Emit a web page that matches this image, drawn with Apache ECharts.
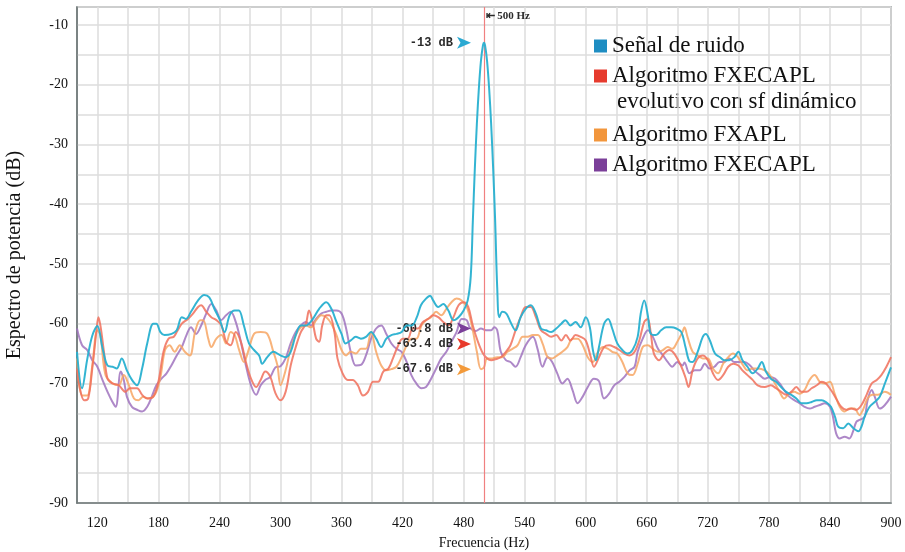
<!DOCTYPE html>
<html>
<head>
<meta charset="utf-8">
<script src="https://cdn.jsdelivr.net/npm/echarts@6/dist/echarts.min.js"></script>
<style>
html, body { margin: 0; padding: 0; background: #fff; }
#chart { width: 905px; height: 552px; }
</style>
</head>
<body>
<div id="chart"></div>
<script>
// [frecuencia Hz, dB]
var senalRuido = [
  [100,-64.7],[105,-70.8],[110,-66],[115,-62],[120,-60.4],[125,-64],[130,-67],[135,-67.2],[139,-67.5],[144,-65.8],
  [149,-67.8],[154,-69.4],[159,-70.3],[164,-67.5],[169,-63.3],[175,-60],[178,-60],[182,-61.4],[186,-61.9],[193,-61.7],
  [198,-61.1],[203,-58.9],[207,-59.2],[212,-58],[219,-56.1],[225,-55.2],[230,-55.6],[235,-57.5],[240,-59.2],[245,-61.4],
  [250,-58.6],[255,-57.8],[259,-57.8],[264,-60.3],[269,-63.3],[274,-64.4],[279,-65.3],[282,-66.7],[287,-65.6],[293,-64.7],
  [300,-65.3],[305,-65.6],[310,-64.7],[315,-61.9],[320,-60.3],[325,-60.3],[331,-59.4],[338,-57.5],[345,-56.4],[350,-57.5],
  [355,-59.7],[360,-61.7],[364,-63.3],[369,-62.8],[374,-62.2],[379,-62.5],[384,-62.2],[389,-61.4],[394,-62.5],[399,-63.9],
  [404,-62.5],[409,-61.9],[414,-61.7],[419,-61.4],[424,-60.3],[429,-60.3],[434,-58.9],[438,-56.9],[443,-55.8],[447,-55.3],
  [450,-56.1],[455,-57.2],[460,-56.7],[465,-57.8],[470,-59.4],[475,-58.9],[480,-57.8],[484,-56.1],[487,-52],[489,-43],
  [491,-34],[493,-26.5],[495,-20.5],[497,-16],[499,-13.4],[500,-13],[501,-13.4],[503,-16],[505,-20.5],[507,-26.5],
  [509,-34],[511,-43],[513,-54],[515,-58.9],[518,-58],[522,-58.3],[526,-59.7],[531,-61.1],[536,-58.9],[541,-57.5],
  [546,-56.9],[551,-58.3],[556,-60.8],[561,-61.1],[566,-61.4],[571,-60.8],[576,-60],[580,-59.4],[585,-60.3],[590,-59.7],
  [595,-60.6],[600,-58.9],[604,-60.6],[607,-64.4],[610,-66.1],[613,-63.9],[618,-60],[622,-59.2],[626,-60.8],[631,-63.3],
  [636,-64.4],[641,-65],[646,-64.4],[651,-62.2],[654,-58.3],[657.5,-56.1],[661,-58.6],[664,-61.7],[669,-61.9],[674,-61.1],
  [679,-60.6],[684,-60.6],[689,-60.8],[694,-61.4],[698,-63.9],[702,-66.3],[705,-66.4],[710,-64.7],[715,-62.2],[718,-61.7],
  [722,-62.8],[727,-65],[732,-65.6],[736,-66.1],[741,-66.1],[746,-65.6],[750,-64.7],[754,-66.1],[759,-67.2],[764,-68.3],
  [769,-67.5],[773,-66.4],[777,-68],[782,-69.2],[787,-69.7],[792,-70.6],[797,-71.4],[802,-71.9],[807,-72.5],[812,-73.3],
  [817,-73.3],[822,-73.1],[827,-72.8],[832,-72.8],[836,-73.1],[841,-73.9],[845,-75.6],[848,-77.2],[853,-77.5],[858,-76.7],
  [863,-77.5],[868,-78],[871,-77.2],[874,-75.6],[879,-73.9],[884,-73.1],[889,-72.2],[894,-70],[900,-67.3]
];
var fxecaplEvolutivo = [
  [100,-67.5],[107,-72.8],[111,-72.5],[115,-67.5],[119,-61.4],[121,-58.9],[123,-60.3],[126.5,-64.7],[130,-69.2],[135,-70],
  [141,-70.3],[147.6,-71.4],[152,-70.8],[159,-70.8],[164,-71.9],[169,-72.5],[175,-72.2],[180,-69.7],[185,-64.7],[190,-62.5],
  [195,-62.2],[198,-61.4],[203,-60],[209,-59.2],[214,-58.3],[219,-57.2],[222,-56.9],[227,-58],[232,-58.9],[237,-59.4],
  [242,-60.3],[246.5,-63],[251,-63.6],[256,-61.4],[261,-63],[266,-66.4],[271,-69.2],[276,-70.6],[280.5,-69.4],[285,-68],
  [290,-68.9],[295,-71.6],[300,-72.8],[305,-71.4],[310,-67],[315,-63.9],[320,-61.4],[325,-60],[328,-57.8],[331.6,-59.7],
  [335,-62.5],[338,-63],[341,-60.3],[345,-58.6],[348,-58.6],[353,-61.4],[356,-65.8],[361,-68.3],[366,-69.4],[371,-69.4],
  [376,-70.3],[381,-72],[386,-71.4],[391,-69.7],[396,-69.7],[401,-68],[406,-67.5],[410.5,-65.8],[415,-63.9],[420,-62.5],
  [425,-62.5],[430,-60.8],[435,-60.8],[440,-59.7],[445,-59.2],[450,-58.6],[455,-58.9],[460,-59.7],[465,-60.3],[470,-58.9],
  [475,-56.9],[480,-56.4],[484.5,-57.2],[489,-60.3],[494,-63],[499,-65],[503,-65.8],[507,-66.1],[512,-65.9],[516.5,-65.6],
  [521.5,-64.7],[526,-63.6],[531,-61.1],[536,-58.9],[541,-57.2],[546,-57.2],[551,-58.9],[556,-61.1],[561,-61.7],[566,-62.2],
  [571,-61.9],[576,-62.8],[580.5,-61.9],[585,-62.8],[590,-61.9],[595,-62.2],[600,-62.8],[605,-65.6],[608,-67.2],[613,-65.6],
  [618,-63.9],[623,-63.6],[628,-63.9],[633,-64.4],[638,-65],[643,-65.3],[648,-64.7],[652.6,-62.8],[657.5,-59.7],[661,-59.2],
  [664,-61.7],[667,-65],[672,-66.1],[677,-65],[682,-64.4],[687,-65],[694,-67.2],[698,-69],[701,-70.6],[705,-67.8],
  [710,-65.8],[715,-65.3],[720,-66.1],[725,-68.3],[730,-69.4],[735,-68.6],[740,-67.2],[745,-66.7],[750,-67],[754,-67.8],
  [759,-68.6],[764,-69.4],[769,-70.3],[776,-70.6],[782,-70.3],[787,-70.8],[792,-71.4],[797,-71.9],[802,-71.4],[807,-70.6],
  [812,-71.4],[817,-71.4],[822,-70.8],[827,-70.3],[832,-69.7],[836,-70],[841,-71.1],[846,-72.5],[851,-73.9],[856,-74.4],
  [861,-74.2],[866,-74.4],[871,-73.6],[876,-71.9],[881,-70],[886,-69.4],[890.5,-68.6],[895.5,-67.2],[900,-65.6]
];
var fxapl = [
  [100,-65.8],[105,-72],[110,-72],[115,-67],[120,-61.1],[123,-61.9],[128,-68.6],[135,-70],[141,-70.3],[146,-68.6],
  [151,-70.3],[156,-72.5],[160.5,-72.8],[165,-72.2],[170,-72.5],[177,-71.7],[182,-68.9],[186.5,-64.4],[191,-63.6],[196,-64.7],
  [201,-63.6],[206,-64.7],[211,-65.3],[216,-61.4],[221,-59.4],[224,-59.4],[229,-62.5],[232,-63.9],[237,-62.5],[242,-61.9],
  [246.5,-63.3],[251,-61.4],[255,-61.9],[259,-64.2],[264,-66.4],[269,-64.2],[274,-61.7],[280.5,-61.4],[287,-61.7],[293,-64.7],
  [297,-67],[300,-70.3],[305,-67.8],[310,-64.2],[315,-61.9],[320,-60.6],[325,-60.3],[330,-60.6],[335,-59.4],[340,-58.6],
  [345,-58.9],[350,-60],[355,-61.9],[360,-64.4],[364.5,-65.3],[369,-64.7],[374,-65],[379,-64.2],[384,-64.2],[389,-61.4],
  [394,-64.7],[399,-67],[404,-67.8],[409,-67.6],[414,-67.2],[419,-65.6],[424,-63.6],[428.6,-62.5],[433.5,-62.5],[438.5,-60.3],
  [443,-59.4],[448,-58.9],[453,-58],[458,-58.6],[463,-57.5],[468,-56.4],[473,-55.8],[478,-56.1],[483,-57.2],[488,-60.3],
  [493,-64.7],[497,-67.6],[500,-67.3],[503,-65.8],[508,-65.8],[513,-65.6],[518,-65.6],[523,-64.7],[528,-64.2],[533,-63.6],
  [538,-62.2],[543,-62.2],[548,-61.9],[553,-61.9],[557.5,-63.3],[562.5,-65.6],[567,-65.8],[572,-65.3],[577,-64.7],[582,-63.9],
  [587,-62.5],[592,-62.5],[597,-63.6],[602,-65.6],[607,-66.4],[612,-64.7],[617,-63.9],[622,-64.2],[626,-64.7],[631,-65],
  [636,-66.4],[641,-68.3],[646,-68.6],[651,-66.7],[656,-63.9],[661,-63.6],[666,-64.2],[671,-64.7],[676,-64.4],[680.5,-63.9],
  [685,-64.2],[690,-63],[695,-61.4],[697,-60.6],[700,-62.2],[705,-64.7],[710,-65.3],[715,-65.8],[720,-65.8],[725,-67.5],
  [730,-68.3],[735,-66.7],[740,-65.6],[744.6,-65],[749.5,-65.6],[754.4,-66.9],[759,-67.8],[764,-67.5],[769,-67.5],[776,-67.8],
  [781,-68.6],[786,-70],[790.5,-71.4],[795,-72.5],[800,-71.7],[805,-71.4],[810,-71.7],[815,-71.1],[820,-69.4],[825,-68.6],
  [830,-69.7],[835,-70],[840,-69.7],[844.6,-71.7],[849.6,-73.9],[854.5,-74.7],[859,-74.2],[864,-74.2],[869,-75.3],[872.5,-74.4],
  [877,-72.5],[882,-71.9],[887,-71.9],[894,-71.4],[900,-71.9]
];
var fxecapl = [
  [100,-60.8],[105,-63.6],[110,-64.4],[115,-66.1],[120,-67.2],[125,-69.4],[130,-71.4],[134.6,-73],[138,-73.9],[143,-68],
  [146,-69.4],[149,-72.2],[154,-73.9],[159,-74.4],[164,-74.7],[169,-73.9],[173.5,-72.2],[178,-70.3],[183,-69.2],[188,-68.3],
  [193,-66.9],[198,-65.3],[203,-63.9],[207.6,-61.9],[212,-60.6],[217,-61.7],[222,-60.3],[227,-58.3],[232,-56.7],[237,-57.8],
  [241.6,-59.4],[246.5,-58.6],[251,-58],[256,-59.7],[261,-63],[266,-67],[271,-70.3],[276,-71.9],[280.5,-70.3],[285,-69.4],
  [290,-68.9],[295,-67.3],[300,-67.1],[305,-65.8],[310,-63.3],[315,-61.4],[320,-60.3],[325,-59.7],[330,-60.3],[335,-59.2],
  [340,-58.3],[345,-58],[350,-57.8],[355,-57.8],[360,-58.3],[364.5,-60.8],[369,-64.7],[374,-67],[379,-66.9],[384,-65.3],
  [389,-62.5],[394,-60.8],[399,-60.3],[404,-61.7],[409,-63.3],[414,-64.2],[419,-64.7],[424,-66.4],[428.6,-68.6],[433.5,-70],
  [438.5,-70.8],[443,-70.6],[448,-69.2],[453,-67.5],[458,-65.8],[463,-64.7],[468,-63],[473,-61.4],[478,-59.2],[483,-59.4],
  [486,-60.6],[492,-61.2],[497,-60.8],[502,-61.1],[507,-61.1],[510,-60.6],[513,-61.1],[516.5,-64.7],[521.5,-66.1],[526,-66.4],
  [531,-67.2],[536,-65.6],[541,-63.6],[548,-62.2],[552.6,-64.2],[557.5,-67.2],[562.5,-65.6],[567,-66.4],[572,-68.3],[577,-70],
  [582,-69.2],[587,-71.1],[592,-73.3],[597,-72.2],[602,-70.6],[608,-69.2],[613,-69.6],[618,-72.5],[623,-71.7],[628,-70.3],
  [633,-69.7],[638,-68.9],[643,-67.8],[648,-67.2],[651,-64.7],[656,-62.5],[661,-61.1],[666,-62.2],[671,-64.2],[676,-65.3],
  [680.5,-66.4],[685,-67.2],[690,-66.4],[695,-67],[697,-66.5],[702,-68.3],[707,-67.8],[712,-67.8],[717,-66.7],[721.6,-67.5],
  [726.5,-67.2],[731.5,-66.4],[736,-66.4],[741,-65.8],[746,-66.4],[751,-66.4],[756,-66.4],[761,-66.9],[765.6,-67.8],[771,-68.6],
  [776,-69.2],[781,-68.9],[786,-69.2],[790.5,-70],[795,-71.1],[800,-72.2],[805,-72.8],[810,-73.3],[815,-73.9],[820,-74.2],
  [825,-73.9],[830,-73.6],[835,-73.3],[840,-73.9],[843,-75.6],[846,-78.3],[849.6,-79.2],[854.5,-78.9],[859,-79.2],[862.7,-78],
  [866,-76.4],[869,-76.1],[874,-75.6],[877,-72.8],[881,-71.1],[884,-72.2],[889,-74.2],[894,-73.6],[900,-72.2]
];

var nombres = ['Señal de ruido', 'Algoritmo FXECAPL evolutivo con sf dinámico', 'Algoritmo FXAPL', 'Algoritmo FXECAPL'];
var peakHz = 500;
var peakDb = -13;
var cursorDb = [-60.8, -63.4, -67.6]; // FXECAPL, FXECAPL evolutivo, FXAPL

var serif = '"Liberation Serif", "Times New Roman", serif';
var mono = '"Liberation Mono", "DejaVu Sans Mono", monospace';

var chart = echarts.init(document.getElementById('chart'), null, { renderer: 'canvas' });

function arrowMark(value, color) {
  return {
    coord: [peakHz, value],
    symbol: 'arrow',
    symbolSize: [9, 14],
    symbolRotate: -90,
    symbolOffset: [-13, 0],
    itemStyle: { color: color },
    label: {
      show: true,
      position: 'left',
      distance: 4,
      formatter: value + ' dB',
      fontFamily: mono,
      fontWeight: 'bold',
      fontSize: 12,
      color: '#2a2a2a'
    }
  };
}

function lineSeries(name, data, lineColor, iconColor, z, marks) {
  return {
    name: name,
    type: 'line',
    data: data,
    smooth: 0.35,
    symbol: 'none',
    z: z,
    itemStyle: { color: iconColor },
    lineStyle: { color: lineColor, width: 2 },
    markPoint: marks ? { silent: true, animation: false, data: marks } : undefined
  };
}

var series = [
  lineSeries(nombres[3], fxecapl, 'rgba(160,115,190,0.85)', '#7b3f99', 2, [arrowMark(cursorDb[0], '#7b3f99')]),
  lineSeries(nombres[2], fxapl, 'rgba(247,166,100,0.85)', '#f2963c', 3, [arrowMark(cursorDb[2], '#f39a3a')]),
  lineSeries(nombres[1], fxecaplEvolutivo, 'rgba(240,112,92,0.85)', '#e63b2e', 4, [arrowMark(cursorDb[1], '#e8392a')]),
  lineSeries(nombres[0], senalRuido, 'rgba(40,176,208,0.95)', '#1e8dc2', 5, [
    arrowMark(peakDb, '#2aa9d2'),
    {
      coord: [peakHz, -8.6],
      symbol: 'circle',
      symbolSize: 1,
      itemStyle: { color: 'rgba(0,0,0,0)' },
      label: {
        show: true,
        position: 'right',
        distance: 1,
        formatter: '\u21E4 ' + peakHz + ' Hz',
        fontFamily: serif,
        fontWeight: 'bold',
        fontSize: 11,
        color: '#2a2a2a'
      }
    }
  ])
];
// linea vertical en la frecuencia del pico
series[3].markLine = {
  silent: true,
  animation: false,
  symbol: 'none',
  label: { show: false },
  lineStyle: { color: '#f08080', width: 1.2, type: 'solid' },
  data: [{ xAxis: peakHz }]
};

var legendText = { fontFamily: serif, fontSize: 23, color: '#111', lineHeight: 30 };

chart.setOption({
  animation: false,
  backgroundColor: '#fff',
  grid: {
    left: 77, right: 14, top: 7, bottom: 49,
    show: true, borderColor: '#7f8888', borderWidth: 1.5,
    outerBoundsMode: 'none'
  },
  legend: [
    {
      data: [nombres[0], nombres[1]],
      orient: 'vertical', left: 589, top: 26, itemGap: 0,
      icon: 'rect', itemWidth: 13, itemHeight: 13,
      selectedMode: false,
      textStyle: legendText,
      formatter: function (n) { return n === nombres[1] ? 'Algoritmo FXECAPL' : n; }
    },
    {
      data: [nombres[2], nombres[3]],
      orient: 'vertical', left: 589, top: 115, itemGap: 0,
      icon: 'rect', itemWidth: 13, itemHeight: 13,
      selectedMode: false,
      textStyle: legendText
    }
  ],
  graphic: [{
    type: 'text',
    left: 617, top: 90,
    style: { text: 'evolutivo con sf dinámico', font: '23px ' + serif, fill: '#111' }
  }],
  xAxis: {
    type: 'value',
    min: 100, max: 900, interval: 10,
    name: 'Frecuencia (Hz)',
    nameLocation: 'middle', nameGap: 33,
    nameMoveOverlap: false,
    nameTextStyle: { fontFamily: serif, fontSize: 14, color: '#111' },
    axisLine: { show: true, lineStyle: { color: '#6f7878', width: 1.5 } },
    axisTick: { show: false },
    axisLabel: {
      margin: 13,
      fontFamily: serif, fontSize: 14, color: '#111',
      formatter: function (v) { return (v - 120) % 60 === 0 ? String(v) : ''; }
    },
    splitLine: {
      show: true,
      lineStyle: { color: ['rgba(0,0,0,0)', 'rgba(0,0,0,0)', '#dcdcdc'], width: 1.5 }
    }
  },
  yAxis: {
    type: 'value',
    min: -90, max: -7, interval: 5,
    name: 'Espectro de potencia (dB)',
    nameLocation: 'middle', nameGap: 52,
    nameMoveOverlap: false,
    nameTextStyle: { fontFamily: serif, fontSize: 20, color: '#111' },
    axisLine: { show: true, lineStyle: { color: '#6f7878', width: 1.5 } },
    axisTick: { show: false },
    axisLabel: {
      margin: 9,
      fontFamily: serif, fontSize: 14, color: '#111',
      formatter: function (v) { return v % 10 === 0 ? String(v) : ''; }
    },
    splitLine: { show: true, lineStyle: { color: '#dcdcdc', width: 1.5 } }
  },
  series: series
});
</script>
</body>
</html>
